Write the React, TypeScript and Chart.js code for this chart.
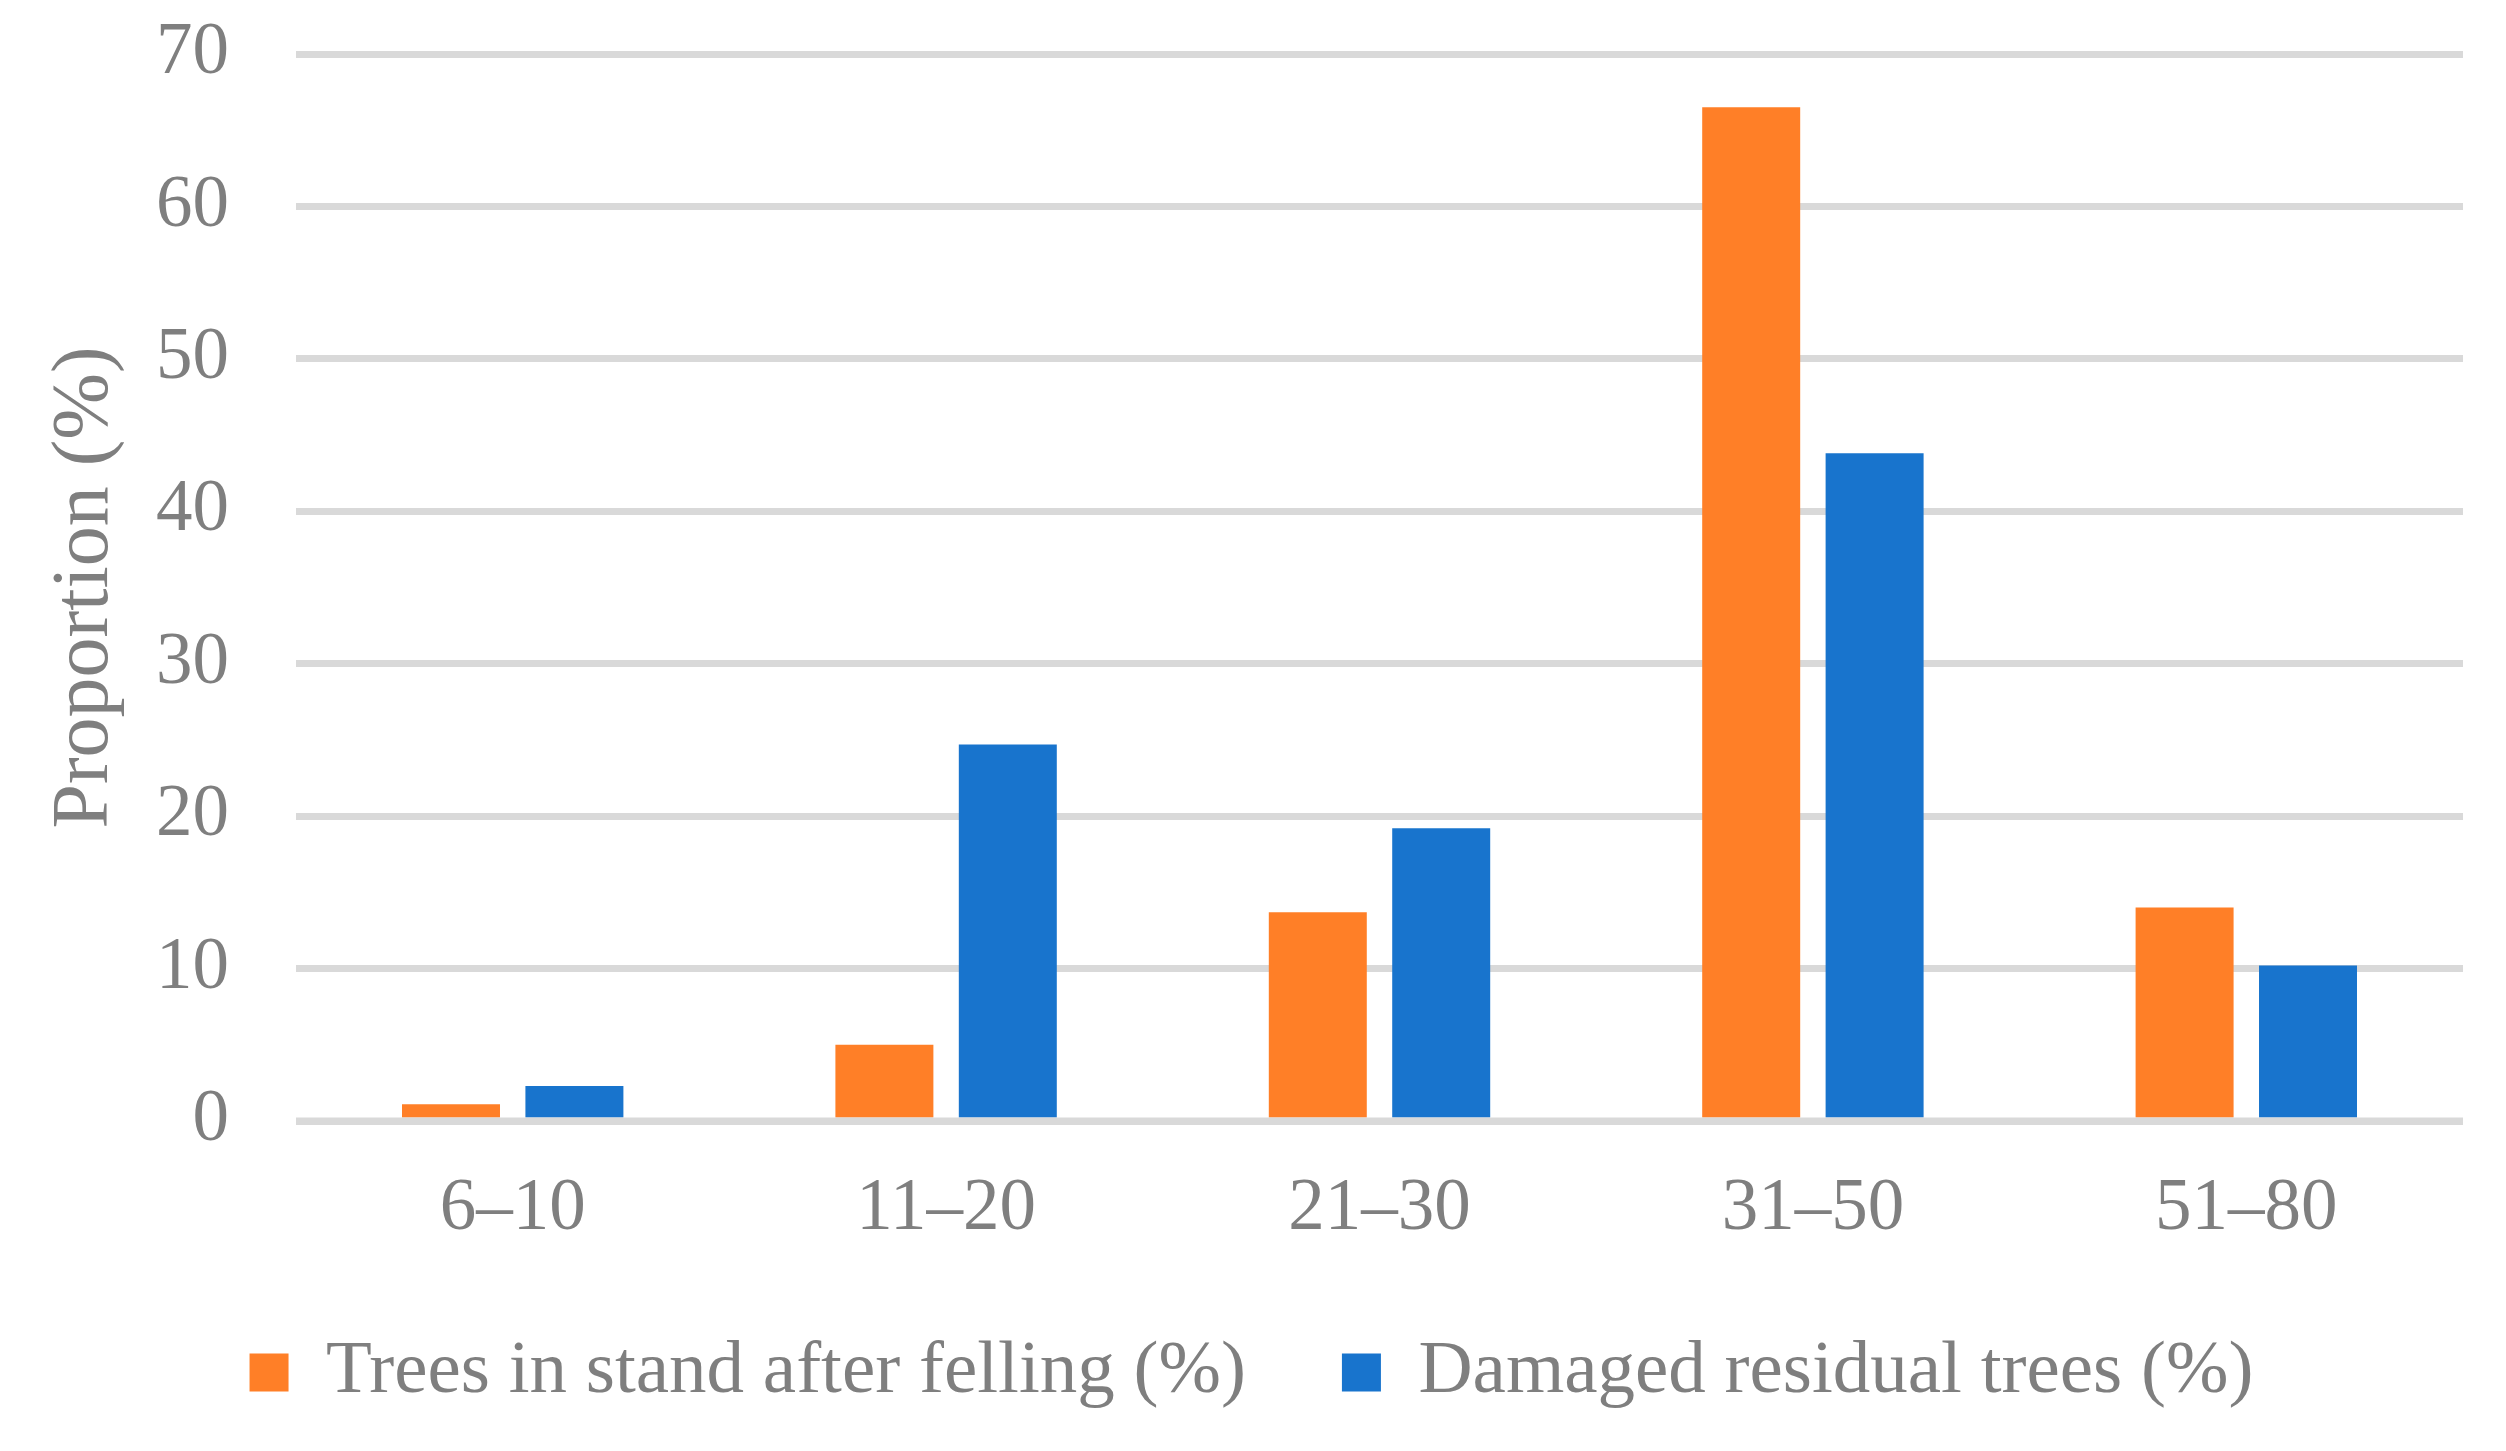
import React, { useEffect, useRef } from "react";
import { Chart, registerables } from "chart.js";

Chart.register(...registerables);

const categories = ["6–10", "11–20", "21–30", "31–50", "51–80"];
const treesInStand = [1.1, 5.0, 13.7, 66.5, 14.0];
const damagedResidual = [2.3, 24.7, 19.2, 43.8, 10.2];
const seriesNames = ["Trees in stand after felling (%)", "Damaged residual trees (%)"];
const yTitle = "Proportion (%)";

const ORANGE = "#FF7F27";
const BLUE = "#1874CD";
const TEXT = "#7F7F7F";
const GRID = "#D9D9D9";
const FONT = "'Liberation Serif', 'Times New Roman', serif";

const zeroLinePlugin = {
  id: "zeroLine",
  afterDatasetsDraw(chart: any) {
    const { ctx, chartArea, scales } = chart;
    const y = scales.y.getPixelForValue(0);
    ctx.save();
    ctx.strokeStyle = GRID;
    ctx.lineWidth = 7;
    ctx.beginPath();
    ctx.moveTo(chartArea.left, y);
    ctx.lineTo(chartArea.right, y);
    ctx.stroke();
    ctx.restore();
  },
};

export default function App() {
  const ref = useRef<HTMLCanvasElement | null>(null);

  useEffect(() => {
    if (!ref.current) return;
    const chart = new Chart(ref.current, {
      type: "bar",
      data: {
        labels: categories,
        datasets: [
          {
            label: seriesNames[0],
            data: treesInStand,
            backgroundColor: ORANGE,
            borderWidth: 0,
            categoryPercentage: 0.5695,
            barPercentage: 0.794,
          },
          {
            label: seriesNames[1],
            data: damagedResidual,
            backgroundColor: BLUE,
            borderWidth: 0,
            categoryPercentage: 0.5695,
            barPercentage: 0.794,
          },
        ],
      },
      options: {
        animation: false,
        responsive: true,
        maintainAspectRatio: false,
        layout: { padding: { top: 54, right: 43, bottom: 31, left: 40 } },
        plugins: {
          tooltip: { enabled: false },
          legend: {
            position: "bottom",
            labels: {
              boxWidth: 39,
              boxHeight: 38,
              padding: 96,
              color: TEXT,
              font: { family: FONT, size: 75 },
            },
          },
        },
        scales: {
          x: {
            grid: { display: false, drawTicks: false },
            border: { display: false },
            ticks: {
              color: TEXT,
              padding: 45,
              font: { family: FONT, size: 73, lineHeight: 1.2 },
            },
            afterFit: (scale: any) => {
              scale.height = 118;
              scale.paddingLeft = 0;
              scale.paddingRight = 0;
            },
          },
          y: {
            min: 0,
            max: 70,
            grid: { color: GRID, lineWidth: 7, drawTicks: false },
            border: { display: false },
            ticks: {
              stepSize: 10,
              color: TEXT,
              padding: 67,
              font: { family: FONT, size: 73, lineHeight: 1.2 },
            },
            title: {
              display: true,
              text: yTitle,
              color: TEXT,
              padding: { top: 6, bottom: 30 },
              font: { family: FONT, size: 80, lineHeight: 1 },
            },
            afterFit: (scale: any) => {
              scale.width = 256;
              scale.paddingTop = 0;
              scale.paddingBottom = 0;
            },
          },
        },
      },
      plugins: [zeroLinePlugin],
    });
    return () => chart.destroy();
  }, []);

  return (
    <div
      style={{
        position: "absolute",
        left: 0,
        top: 0,
        width: 2506,
        height: 1451,
        background: "#ffffff",
      }}
    >
      <canvas ref={ref} style={{ display: "block" }} />
    </div>
  );
}
